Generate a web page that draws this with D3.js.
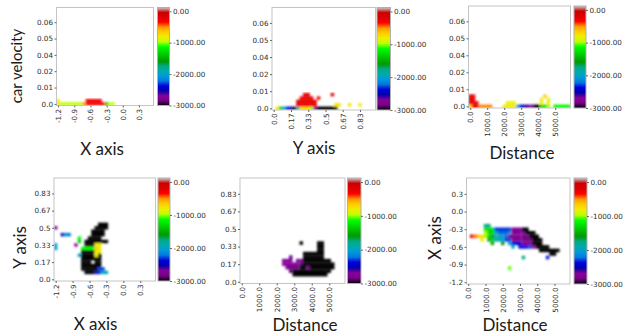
<!DOCTYPE html>
<html>
<head>
<meta charset="utf-8">
<script src="https://cdn.jsdelivr.net/npm/d3@7/dist/d3.min.js"></script>
<style>
  body { margin: 0; background: #fff; }
  svg { display: block; }
  .tick text { font-family: 'DejaVu Sans', sans-serif; font-size: 7.2px; fill: #2e2e2e; }
  .tick line { stroke: #666; }
  .title { font-family: Lato, sans-serif; fill: #1a1a1a; }
</style>
</head>
<body>
<svg id="chart" width="630" height="336"></svg>
<script>
// 30 x 30 bins per panel, ticks every 5 bins
const N = 30;
const tickIdx = [0, 5, 10, 15, 20, 25];

const velocityTicks = ["0.0", "0.01", "0.02", "0.04", "0.05", "0.06"];
const yAxisTicks = ["0.0", "0.17", "0.33", "0.5", "0.67", "0.83"];
const xAxisTicks = ["-1.2", "-0.9", "-0.6", "-0.3", "0.0", "0.3"];
const distTicks = ["0.0", "1000.0", "2000.0", "3000.0", "4000.0", "5000.0"];
const cbTicks = [0, -1000, -2000, -3000];
const vMin = -3000, vMax = 120;

// filled bins as runs: [row, firstCol, lastCol, value]
const velXCells = [
  [0, 0, 0, -800], [0, 1, 7, -950], [0, 8, 8, -500], [0, 9, 14, -300], [0, 15, 15, -1450], [0, 16, 17, -950],
  [1, 0, 0, -800], [1, 9, 13, -300]
];

const velYCells = [
  [0, 1, 1, -800], [0, 2, 2, -1350], [0, 3, 3, -2000], [0, 4, 4, -2350], [0, 5, 5, -2550], [0, 6, 6, -3000],
  [0, 7, 7, -1950], [0, 8, 10, -700], [0, 11, 11, -1000], [0, 12, 12, -2700], [0, 13, 18, -3000],
  [1, 7, 12, -250], [1, 18, 19, -780], [1, 22, 22, -780], [1, 25, 25, -780],
  [2, 7, 12, -250],
  [3, 8, 11, -250], [3, 13, 13, -250],
  [4, 9, 10, -250], [4, 17, 17, -250]
];

const velDistCells = [
  [0, 0, 0, -650], [0, 1, 2, -250], [0, 3, 6, -480], [0, 10, 13, -820], [0, 14, 14, -2100], [0, 15, 15, -2400],
  [0, 16, 17, -2600], [0, 18, 18, -2750], [0, 19, 20, -3000], [0, 21, 22, -1300], [0, 23, 23, -1000], [0, 25, 29, -1150],
  [1, 0, 2, -250], [1, 11, 13, -820], [1, 21, 21, -820], [1, 23, 23, -820],
  [2, 0, 1, -250], [2, 21, 21, -800], [2, 23, 23, -800],
  [3, 0, 1, -250], [3, 22, 22, -650]
];

const yXCells = [
  [16, 13, 15, -3000],
  [15, 0, 0, -2700], [15, 12, 15, -3000],
  [14, 11, 14, -3000],
  [13, 2, 2, -2550], [13, 3, 4, -2150], [13, 11, 14, -3000],
  [12, 7, 7, -1150], [12, 10, 13, -3000],
  [11, 7, 7, -1350], [11, 9, 15, -3000],
  [10, 0, 0, -2050], [10, 6, 6, -2700], [10, 9, 11, -3000], [10, 12, 13, -800],
  [9, 0, 0, -2050], [9, 8, 11, -1150], [9, 12, 12, -650], [9, 13, 13, -800],
  [8, 8, 11, -3000], [8, 12, 13, -800],
  [7, 7, 7, -1950], [7, 8, 11, -3000], [7, 12, 12, -820], [7, 13, 13, -3000],
  [6, 8, 13, -3000],
  [5, 8, 10, -3000], [5, 12, 13, -3000],
  [4, 8, 13, -3000],
  [3, 8, 12, -3000], [3, 13, 14, -2300],
  [2, 9, 11, -3000], [2, 12, 12, -2500], [2, 13, 13, -2300], [2, 14, 15, -1950]
];

const yDistCells = [
  [11, 17, 17, -3000], [11, 22, 23, -3000],
  [10, 22, 23, -3000],
  [9, 22, 23, -3000],
  [8, 18, 23, -3000],
  [7, 14, 14, -2650], [7, 18, 23, -3000],
  [6, 12, 14, -2700], [6, 16, 16, -2650], [6, 17, 17, -2850], [6, 18, 25, -3000],
  [5, 12, 16, -2720], [5, 17, 17, -2900], [5, 18, 26, -3000],
  [4, 13, 13, -2750], [4, 14, 16, -2850], [4, 17, 18, -3000], [4, 19, 19, -2850], [4, 20, 26, -3000],
  [3, 14, 14, -2900], [3, 15, 25, -3000],
  [2, 15, 24, -3000]
];

const xDistCells = [
  [16, 5, 6, -1750],
  [15, 5, 7, -1250], [15, 8, 12, -2300], [15, 13, 15, -2700], [15, 16, 17, -3000],
  [14, 5, 5, -1000], [14, 6, 7, -1300], [14, 8, 8, -1950], [14, 9, 11, -2250], [14, 12, 12, -2150], [14, 13, 15, -2750], [14, 16, 16, -2850], [14, 17, 19, -3000],
  [13, 1, 1, -250], [13, 2, 2, -450], [13, 3, 3, -620], [13, 4, 4, -760], [13, 5, 5, -1000], [13, 6, 6, -1350], [13, 7, 7, -1550],
  [13, 8, 8, -1900], [13, 9, 10, -2000], [13, 11, 11, -2250], [13, 12, 15, -2750], [13, 16, 17, -2850], [13, 18, 20, -3000],
  [12, 4, 4, -820], [12, 6, 6, -1500], [12, 7, 7, -1350], [12, 8, 9, -1900], [12, 10, 10, -2050], [12, 11, 12, -2300],
  [12, 13, 15, -2750], [12, 16, 18, -2850], [12, 19, 21, -3000],
  [11, 7, 7, -1550], [11, 10, 10, -1600], [11, 12, 12, -2050], [11, 13, 15, -2400], [11, 16, 18, -2750], [11, 19, 21, -3000],
  [10, 13, 13, -1950], [10, 15, 17, -2350], [10, 18, 18, -2300], [10, 19, 19, -2750], [10, 20, 23, -3000],
  [9, 21, 26, -3000],
  [8, 24, 25, -3000],
  [7, 16, 16, -1800], [7, 23, 23, -2350],
  [4, 12, 12, -1050]
];

// nipy_spectral colormap nodes
const specT = d3.range(21).map(i => i / 20);
const specR = [0, .4667, .5333, 0, 0, 0, 0, 0, 0, 0, 0, 0, 0, .7333, .9333, 1, 1, 1, .8667, .8, .8];
const specG = [0, 0, 0, 0, 0, .4667, .6, .6667, .6667, .6, .7333, .8667, 1, 1, .9333, .8, .6, 0, 0, 0, .8];
const specB = [0, .5333, .6, .6667, .8667, .8667, .8667, .6667, .5333, 0, 0, 0, 0, 0, 0, 0, 0, 0, 0, 0, .8];
const specColors = specT.map((t, i) => d3.rgb(specR[i] * 255, specG[i] * 255, specB[i] * 255).formatHex());

const cmap = d3.scaleLinear().domain(specT).range(specColors).clamp(true);
const colorOf = v => cmap((v - vMin) / (vMax - vMin));

const svg = d3.select('#chart');
const defs = svg.append('defs');

const grad = defs.append('linearGradient')
  .attr('id', 'cbGrad')
  .attr('x1', 0).attr('y1', 1).attr('x2', 0).attr('y2', 0);
grad.selectAll('stop')
  .data(specT)
  .join('stop')
  .attr('offset', d => d)
  .attr('stop-color', (d, i) => specColors[i]);

defs.append('filter')
  .attr('id', 'soft')
  .attr('x', '-5%').attr('y', '-5%').attr('width', '110%').attr('height', '110%')
  .append('feGaussianBlur')
  .attr('stdDeviation', 0.8);

class HeatPanel {
  constructor(_config, _cells) {
    this.config = _config;
    this.cells = _cells;
    this.initVis();
  }

  initVis() {
    let vis = this;
    const c = vis.config;

    vis.xScale = d3.scaleLinear().domain([-0.5, N - 0.5]).range([c.box[0], c.box[2]]);
    vis.yScale = d3.scaleLinear().domain([-0.5, N - 0.5]).range([c.box[3], c.box[1]]);
    vis.cbScale = d3.scaleLinear().domain([vMin, vMax]).range([c.box[3], c.box[1]]);

    vis.g = svg.append('g');

    defs.append('clipPath')
      .attr('id', 'clip' + c.id)
      .append('rect')
      .attr('x', c.box[0]).attr('y', c.box[1])
      .attr('width', c.box[2] - c.box[0]).attr('height', c.box[3] - c.box[1]);

    vis.cellG = vis.g.append('g')
      .attr('clip-path', `url(#clip${c.id})`)
      .append('g')
      .attr('filter', 'url(#soft)');

    vis.cellG.selectAll('rect')
      .data(vis.cells)
      .join('rect')
      .attr('x', d => vis.xScale(d[1] - 0.5))
      .attr('y', d => vis.yScale(d[0] + 0.5))
      .attr('width', d => vis.xScale(d[2] + 0.5) - vis.xScale(d[1] - 0.5))
      .attr('height', d => vis.yScale(d[0] - 0.5) - vis.yScale(d[0] + 0.5))
      .attr('fill', d => colorOf(d[3]));

    vis.g.append('rect')
      .attr('x', c.box[0]).attr('y', c.box[1])
      .attr('width', c.box[2] - c.box[0]).attr('height', c.box[3] - c.box[1])
      .attr('fill', 'none')
      .attr('stroke', '#c4c4c4');

    // axes
    const yAxis = d3.axisLeft(vis.yScale)
      .tickValues(tickIdx)
      .tickFormat((d, i) => c.yTicks[i])
      .tickSize(2).tickPadding(1.5);
    vis.g.append('g')
      .attr('transform', `translate(${c.box[0]},0)`)
      .call(yAxis)
      .call(g => g.select('.domain').remove());

    const xAxis = d3.axisBottom(vis.xScale)
      .tickValues(tickIdx)
      .tickFormat((d, i) => c.xTicks[i])
      .tickSize(2);
    vis.g.append('g')
      .attr('transform', `translate(0,${c.box[3]})`)
      .call(xAxis)
      .call(g => g.select('.domain').remove())
      .selectAll('text')
      .attr('transform', 'rotate(-90)')
      .attr('text-anchor', 'end')
      .attr('x', -3.5).attr('y', 0)
      .attr('dy', '0.35em');

    // colorbar
    vis.g.append('rect')
      .attr('x', c.cb[0]).attr('y', c.box[1])
      .attr('width', c.cb[1] - c.cb[0]).attr('height', c.box[3] - c.box[1])
      .attr('fill', 'url(#cbGrad)')
      .attr('stroke', '#b0b0b0');

    const cbAxis = d3.axisRight(vis.cbScale)
      .tickValues(cbTicks)
      .tickFormat(d => d.toFixed(2))
      .tickSize(2).tickPadding(1.5);
    vis.g.append('g')
      .attr('transform', `translate(${c.cb[1]},0)`)
      .call(cbAxis)
      .call(g => g.select('.domain').remove());

    // titles
    vis.g.append('text')
      .attr('class', 'title')
      .attr('x', c.xTitle[1]).attr('y', c.xTitle[2])
      .attr('text-anchor', 'middle')
      .attr('font-size', 17)
      .text(c.xTitle[0]);

    if (c.yTitle) {
      vis.g.append('g')
        .attr('transform', `translate(${c.yTitle[1]},${c.yTitle[2]})`)
        .append('text')
        .attr('class', 'title')
        .attr('transform', 'rotate(-90)')
        .attr('text-anchor', 'middle')
        .attr('font-size', c.yTitle[3])
        .text(c.yTitle[0]);
    }
  }
}

new HeatPanel({ id: 1, box: [56.5, 7.5, 153.5, 105.5], cb: [157.5, 169.5], xTicks: xAxisTicks, yTicks: velocityTicks,
  xTitle: ['X axis', 102, 155], yTitle: ['car velocity', 22, 66, 15] }, velXCells);
new HeatPanel({ id: 2, box: [272, 7.5, 375.5, 110], cb: [377, 390.5], xTicks: yAxisTicks, yTicks: velocityTicks,
  xTitle: ['Y axis', 314, 154] }, velYCells);
new HeatPanel({ id: 3, box: [468.5, 6, 570.5, 108], cb: [574, 586], xTicks: distTicks, yTicks: velocityTicks,
  xTitle: ['Distance', 522, 159] }, velDistCells);
new HeatPanel({ id: 4, box: [54, 178, 155.5, 281], cb: [158, 170], xTicks: xAxisTicks, yTicks: yAxisTicks,
  xTitle: ['X axis', 95.5, 330], yTitle: ['Y axis', 25.5, 247.5, 17] }, yXCells);
new HeatPanel({ id: 5, box: [240, 178, 345, 283.5], cb: [347.5, 361], xTicks: distTicks, yTicks: yAxisTicks,
  xTitle: ['Distance', 305, 331] }, yDistCells);
new HeatPanel({ id: 6, box: [466.5, 178, 570, 284], cb: [574, 587], xTicks: distTicks, yTicks: xAxisTicks,
  xTitle: ['Distance', 515, 331], yTitle: ['X axis', 440.5, 238, 17] }, xDistCells);
</script>
</body>
</html>
